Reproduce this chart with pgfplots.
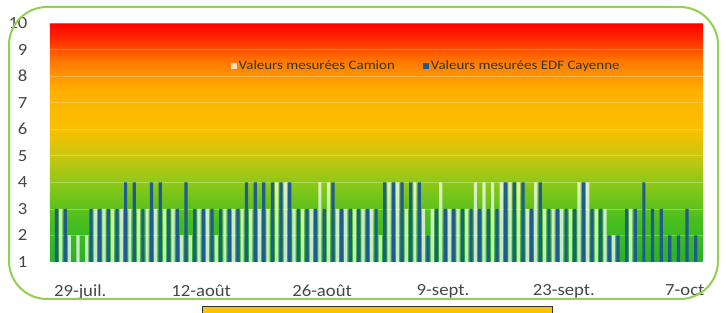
\documentclass[border=0pt]{standalone}
\usepackage{pgfplots}
\pgfplotsset{compat=1.18}
\usepackage{pgfplotstable}
\usepackage{fontspec}
\setmainfont{Carlito}
\newfontfamily\legfont[FakeStretch=1.15]{Carlito}
\newfontfamily\tickfont[FakeStretch=1.1]{Carlito}
\definecolor{bblue}{RGB}{30,92,140}
\definecolor{frameg}{RGB}{146,208,80}
\definecolor{tickc}{RGB}{70,70,70}
\definecolor{g0}{RGB}{44,176,44}
\definecolor{g1}{RGB}{70,190,30}
\definecolor{g2}{RGB}{140,200,25}
\definecolor{g3}{RGB}{205,198,15}
\definecolor{g4}{RGB}{250,192,0}
\definecolor{g5}{RGB}{255,176,0}
\definecolor{g6}{RGB}{255,120,0}
\definecolor{g7}{RGB}{255,45,0}
\definecolor{g8}{RGB}{255,0,0}
\pgfdeclareverticalshading{risk}{100bp}{color(0bp)=(g0); color(25bp)=(g0); color(33.5bp)=(g1); color(41.5bp)=(g2); color(47.5bp)=(g3); color(53bp)=(g4); color(61bp)=(g5); color(67bp)=(g6); color(71.5bp)=(g7); color(75bp)=(g8); color(100bp)=(g8)}
\pgfplotstableread{
d W B
-3 1 3
-2 3 3
-1 2 1
0 2 1
1 2 3
2 3 3
3 3 3
4 3 3
5 3 4
6 3 4
7 3 3
8 3 4
9 3 4
10 3 3
11 3 3
12 2 4
13 2 3
14 3 3
15 3 3
16 2 3
17 3 3
18 3 3
19 3 4
20 3 4
21 3 4
22 3 4
23 4 4
24 4 4
25 3 3
26 3 3
27 3 3
28 4 3
29 4 4
30 3 3
31 3 3
32 3 3
33 3 3
34 3 3
35 2 4
36 4 4
37 4 4
38 3 4
39 4 4
40 3 2
41 3 3
42 4 3
43 3 3
44 3 3
45 3 3
46 4 3
47 4 3
48 4 3
49 4 4
50 4 4
51 4 4
52 3 3
53 4 4
54 3 3
55 3 3
56 3 3
57 3 3
58 4 4
59 4 3
60 3 3
61 3 2
62 2 2
63 1 3
64 3 3
65 1 4
66 1 3
67 1 3
68 1 2
69 1 2
70 1 3
71 1 2
}\data
\begin{document}
\begin{tikzpicture}
\useasboundingbox (0,0) rectangle (726pt,313pt);
\begin{axis}[
  at={(50pt,51pt)}, anchor=south west,
  scale only axis, width=653pt, height=239pt,
  xmin=-3.5, xmax=72.1, ymin=1, ymax=10,
  ytick={1,...,10},
  xtick={0,14,28,42,56,70},
  xticklabels={29-juil.,12-août,26-août,9-sept.,23-sept.,7-oct},
  axis line style={draw=none},
  major tick length=0pt,
  /pgf/number format/assume math mode=true,
  tick label style={font=\tickfont\fontsize{17}{17}\selectfont, text=tickc},
  yticklabel style={xshift=-19pt},
  xticklabel style={yshift=-19pt},
  ymajorgrids, grid style={white, opacity=0.3, line width=0.6pt},
  axis background/.style={shading=risk},
  ybar, bar width=3.2pt,
  legend columns=2,
  legend style={at={(0.576,0.82)}, anchor=center, draw=none, fill=none,
    font=\legfont\fontsize{13}{13}\selectfont, text=black!80,
    /tikz/every even column/.append style={column sep=26pt}},
  legend image code/.code={\fill[#1] (0pt,-3pt) rectangle (6pt,3pt);},
  clip=true,
]
\addplot[bar shift=-2.2pt, fill=white, fill opacity=0.72, draw=none] table[x=d, y=W] {\data};
\addlegendentry{Valeurs mesurées Camion}
\addplot[bar shift=2.2pt, fill=bblue, draw=none] table[x=d, y=B] {\data};
\addlegendentry{Valeurs mesurées EDF Cayenne}
\end{axis}
\draw[frameg, line width=2pt, rounded corners=38pt] (9pt,14pt) rectangle (718pt,306pt);
\begin{scope}
\clip (0,0) rectangle (726pt,313pt);
\fill[fill={rgb,255:red,250;green,196;blue,0}, draw=black!80, line width=0.8pt] (202pt,-5pt) rectangle (552pt,7pt);
\end{scope}
\end{tikzpicture}
\end{document}
